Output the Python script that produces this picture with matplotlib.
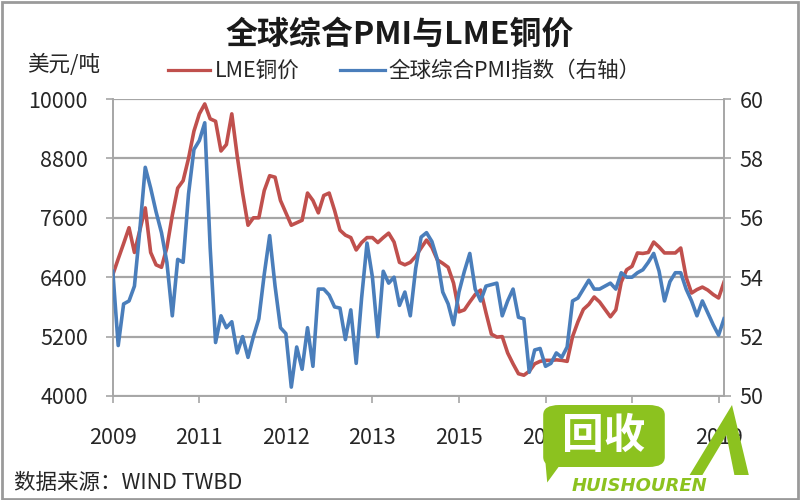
import matplotlib
matplotlib.use("Agg")
import matplotlib.pyplot as plt
from matplotlib.patches import FancyBboxPatch, Polygon, Rectangle

plt.rcParams['font.family'] = ['Noto Sans CJK SC', 'DejaVu Sans']

# ---- data (monthly, Nov 2009 - Apr 2019) ----
lme_copper = [6450, 6770, 7080, 7400, 6900, 7350, 7800, 6900, 6650, 6600,
              7000, 7650, 8200, 8350, 8800, 9350, 9700, 9900, 9600, 9550,
              8950, 9080, 9700, 8850, 8100, 7450, 7600, 7600, 8150, 8450,
              8420, 7950, 7700, 7450, 7500, 7550, 8100, 7950, 7700, 8050,
              8100, 7750, 7350, 7250, 7200, 6950, 7100, 7200, 7200, 7100,
              7200, 7290, 7110, 6700, 6650, 6700, 6820, 6990, 7150, 7000,
              6750, 6680, 6600, 6280, 5700, 5740, 5900, 6050, 6140, 5680,
              5250, 5190, 5200, 4870, 4650, 4450, 4420, 4500, 4650, 4700,
              4720, 4720, 4730, 4720, 4700, 5200, 5500, 5750, 5850, 6000,
              5900, 5750, 5600, 5740, 6300, 6550, 6620, 6890, 6880, 6900,
              7110, 7010, 6890, 6890, 6890, 6990, 6400, 6080, 6150, 6200,
              6140, 6050, 5980, 6300]
global_pmi = [54.2, 51.7, 53.1, 53.2, 53.7, 55.6, 57.7, 57.0, 56.2, 55.5,
              54.5, 52.7, 54.6, 54.5, 56.8, 58.3, 58.6, 59.2, 55.0, 51.8,
              52.7, 52.3, 52.5, 51.45, 52.0, 51.3, 52.0, 52.6, 54.1, 55.4,
              53.7, 52.3, 52.1, 50.3, 51.65, 50.9, 52.3, 51.0, 53.6, 53.6,
              53.4, 53.0, 52.96, 51.9, 52.9, 51.1, 53.3, 55.15, 54.0, 52.0,
              54.2, 53.8, 54.0, 53.05, 53.5, 52.7, 54.3, 55.35, 55.5, 55.2,
              54.6, 53.5, 53.1, 52.4, 53.5, 54.2, 54.8, 53.6, 53.2, 53.7,
              53.75, 53.8, 52.7, 53.2, 53.6, 52.65, 52.6, 50.8, 51.55, 51.6,
              51.0, 51.1, 51.45, 51.3, 51.65, 53.2, 53.3, 53.6, 53.9, 53.6,
              53.6, 53.7, 53.8, 53.6, 54.15, 54.0, 54.0, 54.15, 54.25, 54.5,
              54.8, 54.2, 53.2, 53.85, 54.15, 54.15, 53.6, 53.2, 52.7, 53.2,
              52.8, 52.4, 52.05, 52.6]
x_tick_labels = ['2009', '2011', '2012', '2013', '2015', '2016', '2017', '2019']
left_ticks = [4000, 5200, 6400, 7600, 8800, 10000]
right_ticks = [50, 52, 54, 56, 58, 60]

RED = '#C0504D'
BLUE = '#4A7EBB'
GRID = '#A6A6A6'
TXT = '#262626'
FS = 15.5

fig = plt.figure(figsize=(8, 5), dpi=100)
fig.patch.set_facecolor('white')
fig.add_artist(Rectangle((0.003, 0.003), 0.994, 0.994, transform=fig.transFigure,
                         fill=False, edgecolor='#9A9A9A', linewidth=2))

ax = fig.add_axes([0.141, 0.208, 0.764, 0.594])
ax2 = ax.twinx()

n = len(lme_copper)
xs = list(range(n))
ax.plot(xs, lme_copper, color=RED, linewidth=2.6, solid_joinstyle='round', zorder=3)
ax2.plot(xs, global_pmi, color=BLUE, linewidth=2.6, solid_joinstyle='round', zorder=3)

ax.set_xlim(0, n - 1)
ax.set_ylim(4000, 10000)
ax2.set_ylim(50, 60)
ax.set_yticks(left_ticks)
ax.set_yticklabels([str(v) for v in left_ticks])
ax2.set_yticks(right_ticks)
ax2.set_yticklabels([str(v) for v in right_ticks])
ax.set_xticks([i * 16 for i in range(len(x_tick_labels))])
ax.set_xticklabels(x_tick_labels)

ax.grid(axis='y', color=GRID, linewidth=1.6, zorder=0)
ax.set_axisbelow(True)
for a in (ax, ax2):
    a.spines['top'].set_visible(False)
    for s in ('left', 'right', 'bottom'):
        a.spines[s].set_color(GRID)
        a.spines[s].set_linewidth(1.2)
ax.tick_params(axis='both', colors=GRID, labelcolor=TXT, labelsize=FS, length=5, width=1.2)
ax.tick_params(axis='x', pad=17)
ax.tick_params(axis='y', pad=13)
ax2.tick_params(axis='y', colors=GRID, labelcolor=TXT, labelsize=FS, length=5, width=1.2, pad=6)

fig.text(0.5, 0.93, '全球综合PMI与LME铜价', ha='center', va='center',
         fontsize=23, fontweight='bold', color='#1a1a1a')
fig.text(0.034, 0.87, '美元/吨', ha='left', va='center', fontsize=FS, color=TXT)

# legend
fig.add_artist(plt.Line2D([0.21, 0.263], [0.86, 0.86], color=RED, linewidth=2.3))
fig.text(0.268, 0.858, 'LME铜价', ha='left', va='center', fontsize=FS, color=TXT)
fig.add_artist(plt.Line2D([0.425, 0.481], [0.86, 0.86], color=BLUE, linewidth=2.3))
fig.text(0.485, 0.858, '全球综合PMI指数（右轴）', ha='left', va='center', fontsize=FS, color=TXT)

fig.text(0.018, 0.034, '数据来源：WIND TWBD', ha='left', va='center', fontsize=FS, color=TXT)

# watermark (approximate)
GREEN = '#8CC21F'
bubble = FancyBboxPatch((0.679, 0.066), 0.152, 0.124, boxstyle='round,pad=0,rounding_size=0.02',
                        transform=fig.transFigure, facecolor=GREEN, edgecolor='none', zorder=10)
fig.add_artist(bubble)
fig.add_artist(Polygon([(0.681, 0.09), (0.70, 0.07), (0.684, 0.035)], closed=True,
                       transform=fig.transFigure, facecolor=GREEN, edgecolor='none', zorder=10))
fig.text(0.755, 0.128, '回收', ha='center', va='center', fontsize=30, fontweight='bold',
         color='white', zorder=11)
fig.add_artist(Polygon([(0.862, 0.05), (0.915, 0.19), (0.936, 0.05), (0.918, 0.05),
                        (0.908, 0.13), (0.878, 0.05)], closed=True,
                       transform=fig.transFigure, facecolor=GREEN, edgecolor='none', zorder=10))
fig.text(0.800, 0.028, 'HUISHOUREN', ha='center', va='center', fontsize=13, fontweight='bold',
         fontstyle='italic', color=GREEN, zorder=11, family='DejaVu Sans')

fig.savefig('out.png', dpi=100, facecolor='white')
